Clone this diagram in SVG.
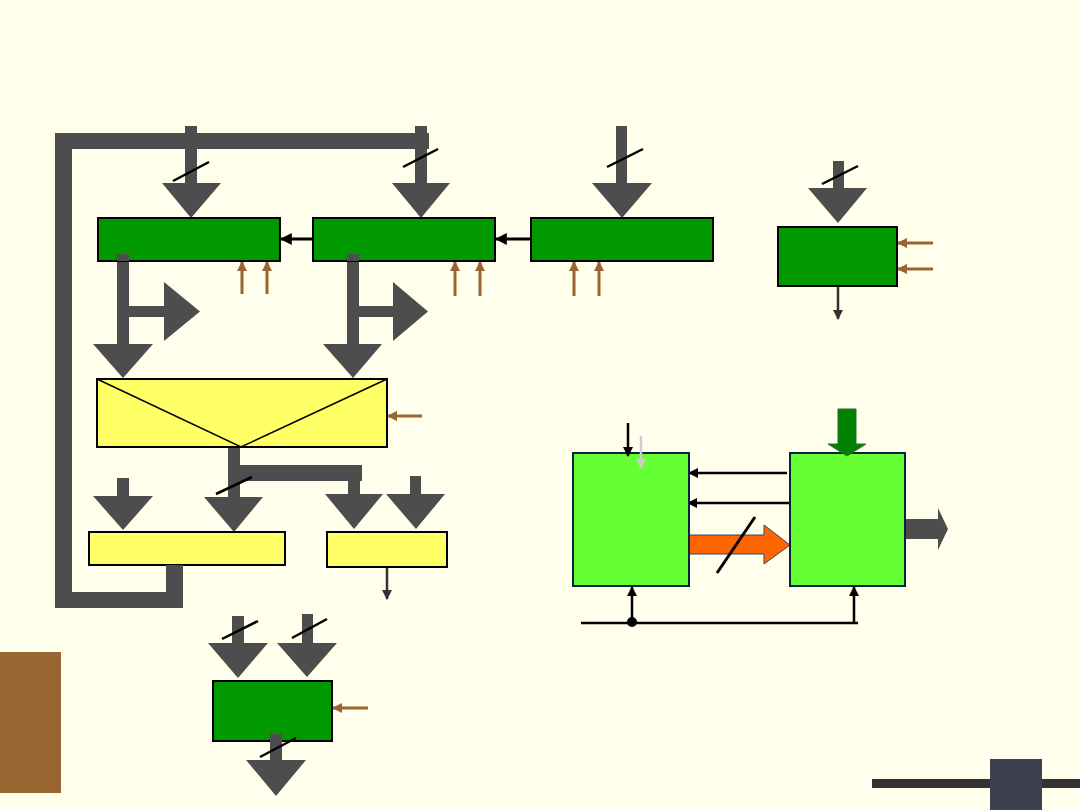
<svg xmlns="http://www.w3.org/2000/svg" width="1080" height="810" viewBox="0 0 1080 810">
<defs>
<style>
.bus{fill:#4d4d4d}
.slash{stroke:#000;stroke-width:2.5;fill:none}
.reg{fill:#009900;stroke:#000;stroke-width:2}
.yel{fill:#ffff66;stroke:#000;stroke-width:2}
.lg{fill:#66ff33;stroke:#0a2040;stroke-width:2}
.brn{stroke:#996633;stroke-width:3;fill:none}
.blk{stroke:#000;stroke-width:3;fill:none}
.dg{stroke:#333;stroke-width:2.5;fill:none}
</style>
<marker id="mb" viewBox="0 0 10 10" refX="9" refY="5" markerWidth="4" markerHeight="4" orient="auto"><path d="M0,0L10,5L0,10z" fill="#000"/></marker>
<marker id="mbr" viewBox="0 0 10 10" refX="9" refY="5" markerWidth="3.5" markerHeight="3.5" orient="auto"><path d="M0,0L10,5L0,10z" fill="#996633"/></marker>
<marker id="mdg" viewBox="0 0 10 10" refX="9" refY="5" markerWidth="4" markerHeight="4" orient="auto"><path d="M0,0L10,5L0,10z" fill="#333"/></marker>
<marker id="mgr" viewBox="0 0 10 10" refX="9" refY="5" markerWidth="4" markerHeight="4" orient="auto"><path d="M0,0L10,5L0,10z" fill="#cccccc"/></marker>
</defs>
<rect width="1080" height="810" fill="#ffffec"/>

<g id="connectors">
<path class="bus" d="M55,133H429V149H72V592H166V566H183V608H55Z"/>
<path class="bus" d="M185,126H197V183H221L191,218L162,183H185Z"/>
<path class="bus" d="M415,126H427V183H450L421,218L392,183H415Z"/>
<path class="bus" d="M616,126H627V183H652L622,218L592,183H616Z"/>
<path class="bus" d="M833,161H844V188H867L838,223L808,188H833Z"/>
<line class="slash" x1="173" y1="181" x2="209" y2="162"/>
<line class="slash" x1="403" y1="167" x2="438" y2="149"/>
<line class="slash" x1="607" y1="167" x2="643" y2="149"/>
<line class="slash" x1="822" y1="184" x2="858" y2="166"/>
<line class="blk" x1="313" y1="239" x2="281" y2="239" marker-end="url(#mb)"/>
<line class="blk" x1="531" y1="239" x2="496" y2="239" marker-end="url(#mb)"/>
<line class="brn" x1="242" y1="294" x2="242" y2="262" marker-end="url(#mbr)"/>
<line class="brn" x1="267" y1="294" x2="267" y2="262" marker-end="url(#mbr)"/>
<line class="brn" x1="455" y1="296" x2="455" y2="262" marker-end="url(#mbr)"/>
<line class="brn" x1="480" y1="296" x2="480" y2="262" marker-end="url(#mbr)"/>
<line class="brn" x1="574" y1="296" x2="574" y2="262" marker-end="url(#mbr)"/>
<line class="brn" x1="599" y1="296" x2="599" y2="262" marker-end="url(#mbr)"/>
<line class="brn" x1="933" y1="243" x2="898" y2="243" marker-end="url(#mbr)"/>
<line class="brn" x1="933" y1="269" x2="898" y2="269" marker-end="url(#mbr)"/>
<line class="brn" x1="422" y1="416" x2="388" y2="416" marker-end="url(#mbr)"/>
<line class="brn" x1="368" y1="708" x2="333" y2="708" marker-end="url(#mbr)"/>
<path class="bus" d="M117,254H129V306H164V282L200,311.5L164,341V317H129V344H153L123,378L93,344H117Z"/>
<path class="bus" d="M347,254H359V306H393V282L428,311.5L393,341V317H359V344H382L353,378L323,344H347Z"/>
<line class="dg" x1="838" y1="286" x2="838" y2="319" marker-end="url(#mdg)"/>
<path class="bus" d="M228,447H240V465H362V481H360V494H383L354,529L325,494H348V481H240V497H263L234,532L204,497H228Z"/>
<line class="slash" x1="216" y1="494" x2="252" y2="477"/>
<path class="bus" d="M117,478H129V496H153L123,530L93,496H117Z"/>
<path class="bus" d="M410,476H421V494H445L416,529L386,494H410Z"/>
<line class="dg" x1="387" y1="567" x2="387" y2="599" marker-end="url(#mdg)"/>
<path class="bus" d="M232,616H244V643H268L238,678L208,643H232Z"/>
<path class="bus" d="M302,614H313V643H337L307,677L277,643H302Z"/>
<line class="slash" x1="222" y1="639" x2="258" y2="621"/>
<line class="slash" x1="292" y1="638" x2="327" y2="619"/>
<line class="blk" x1="787" y1="473" x2="689" y2="473" marker-end="url(#mb)" style="stroke-width:2.5"/>
<line class="blk" x1="790" y1="503" x2="688" y2="503" marker-end="url(#mb)" style="stroke-width:2.5"/>
<path d="M689,535H764V525L790,545L764,564V554H689Z" fill="#ff6600" stroke="#334466" stroke-width="1"/>
<line class="slash" x1="717" y1="573" x2="755" y2="517" style="stroke-width:3"/>
<path class="bus" d="M905,519H938V508L948,529L938,550V539H905Z"/>
<line class="blk" x1="581" y1="623" x2="858" y2="623" style="stroke-width:2.5"/>
<circle cx="632" cy="622" r="5" fill="#000"/>
<line class="blk" x1="632" y1="623" x2="632" y2="587" marker-end="url(#mb)" style="stroke-width:2.5"/>
<line class="blk" x1="854" y1="623" x2="854" y2="587" marker-end="url(#mb)" style="stroke-width:2.5"/>
</g>

<g id="reg1"><rect class="reg" x="98" y="218" width="182" height="43"/></g>
<g id="reg2"><rect class="reg" x="313" y="218" width="182" height="43"/></g>
<g id="reg3"><rect class="reg" x="531" y="218" width="182" height="43"/></g>
<g id="reg4"><rect class="reg" x="778" y="227" width="119" height="59"/></g>
<g id="alu">
<rect class="yel" x="97" y="379" width="290" height="68"/>
<polyline points="97,379 241,447 387,379" fill="none" stroke="#000" stroke-width="1.5"/>
</g>
<g id="yel-left"><rect class="yel" x="89" y="532" width="196" height="33"/></g>
<g id="yel-right"><rect class="yel" x="327" y="532" width="120" height="35"/></g>
<g id="reg-bottom"><rect class="reg" x="213" y="681" width="119" height="60"/></g>
<g id="boxA"><rect class="lg" x="573" y="453" width="116" height="133"/></g>
<g id="boxB"><rect class="lg" x="790" y="453" width="115" height="133"/></g>

<g id="overlay-connectors">
<rect class="bus" x="117" y="254" width="12" height="7"/>
<rect class="bus" x="347" y="254" width="12" height="7"/>
<rect class="bus" x="166" y="565" width="17" height="1"/>
<path class="bus" d="M270,734H282V760H306L276,796L246,760H270Z"/>
<line class="slash" x1="260" y1="757" x2="296" y2="738"/>
<line class="blk" x1="628" y1="423" x2="628" y2="456" marker-end="url(#mb)" style="stroke-width:2.5"/>
<line x1="641" y1="436" x2="641" y2="468" stroke="#cccccc" stroke-width="2.5" marker-end="url(#mgr)"/>
<path d="M838,409H856V444H866L847,456L828,444H838Z" fill="#008000" stroke="#2f6b2f" stroke-width="1"/>
</g>

<g id="decor">
<rect x="0" y="652" width="61" height="141" fill="#996633"/>
<rect x="872" y="779" width="208" height="9" fill="#333"/>
<rect x="990" y="759" width="52" height="51" fill="#3d4050"/>
</g>
</svg>
